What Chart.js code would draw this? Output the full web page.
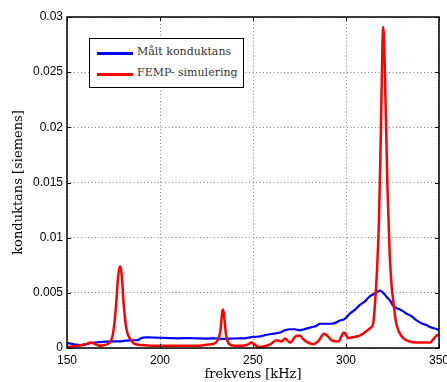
<!DOCTYPE html>
<html>
<head>
<meta charset="utf-8">
<script src="https://cdn.jsdelivr.net/npm/chart.js@4.4.0/dist/chart.umd.min.js"></script>
<style>
  html, body { margin: 0; padding: 0; background: #fff; }
  #wrap { position: relative; width: 447px; height: 382px; }
  #legend {
    position: absolute; left: 89px; top: 38px; width: 155px; height: 50px;
    box-sizing: border-box; border: 1.5px solid #000; background: #fff;
    font-family: "DejaVu Serif", serif; font-size: 11px; color: #333;
  }
  .row { position: absolute; left: 0; height: 14px; width: 100%; }
  .sw { position: absolute; left: 7px; top: 6px; width: 36px; height: 2.5px; }
  .lb { position: absolute; left: 47px; top: -1px; white-space: nowrap; }
</style>
</head>
<body>
<div id="wrap">
  <canvas id="c" width="447" height="382"></canvas>
  <div id="legend">
    <div class="row" style="top:7px"><div class="sw" style="background:#0000ff"></div><div class="lb" id="l0"></div></div>
    <div class="row" style="top:28px"><div class="sw" style="background:#ff0000"></div><div class="lb" id="l1"></div></div>
  </div>
</div>
<script>
const seriesNames = ["Målt konduktans", "FEMP- simulering"];
const xTicks = [150, 200, 250, 300, 350];
const yTicks = [0, 0.005, 0.01, 0.015, 0.02, 0.025, 0.03];

const blueFreq = [150,152,155,157,160,163,166,169,172,175,180,184,188,190,192,196,200,205,210,215,220,225,230,234,240,245,250,254,257.4,261,264.5,267,270,272.5,275,277.5,279.7,282,284,286,289,292,294.5,296.8,299,302,305,307.5,310,312.9,315,316.8,318.3,320,322,323.7,325.5,327.2,329,331,332.6,335,338,341,343,345.2,347,349,350];
const blueVal  = [0.00046,0.0004,0.0003,0.00027,0.00033,0.00045,0.0005,0.00056,0.00058,0.0006,0.00063,0.0007,0.00072,0.0009,0.00097,0.00095,0.00093,0.0009,0.00088,0.0009,0.00087,0.00085,0.00088,0.00082,0.00086,0.00088,0.001,0.00105,0.0012,0.0013,0.0014,0.0016,0.0017,0.0017,0.0016,0.0017,0.0018,0.0019,0.0020,0.0022,0.0022,0.0022,0.0023,0.0025,0.0026,0.0031,0.0035,0.0039,0.0042,0.0047,0.0049,0.0051,0.0052,0.0050,0.0046,0.0043,0.0038,0.0036,0.0035,0.0033,0.0031,0.0029,0.0025,0.0022,0.0021,0.0019,0.0018,0.0017,0.0016];

const redFreq = [150,153,156,159,161,162.7,164.5,167.7,171,173.5,175,176.3,177.5,178.5,179.3,180.6,182,184,186,188,192,196,200,205,210,215,220,225,229,231,232.5,233.5,234,234.7,235.5,237,240,244,247,249.3,251,253,256,259,262.7,265.4,267.2,270,273.5,275.3,277,278.5,282.4,285,288.2,290,292.3,295.9,298.9,301.3,304,307,309.3,311.5,313,314.6,315.6,316.8,317.8,318.8,319.6,320,320.5,321.3,322.3,323.5,324.6,325.4,326.3,327.2,329,330.8,334,338,342,345.2,347,348.5,350];
const redVal  = [0.0001,0.00015,0.0002,0.0003,0.0004,0.0005,0.0004,0.0002,0.0003,0.0006,0.0016,0.0037,0.0065,0.0074,0.0068,0.0037,0.0017,0.0008,0.0004,0.0003,0.00025,0.0002,0.0002,0.0002,0.0002,0.0002,0.0002,0.0003,0.0004,0.0007,0.0016,0.0033,0.0035,0.0025,0.0012,0.0004,0.0002,0.0002,0.0003,0.0005,0.0003,0.0001,0.00015,0.0003,0.0007,0.0006,0.00085,0.0005,0.0011,0.0011,0.0008,0.0006,0.00035,0.0006,0.0013,0.0011,0.0007,0.0006,0.0014,0.0009,0.001,0.0011,0.0013,0.0016,0.0018,0.0022,0.004,0.0075,0.012,0.02,0.0275,0.0291,0.028,0.022,0.0145,0.0085,0.0055,0.0043,0.003,0.0021,0.0013,0.0009,0.0006,0.0005,0.0005,0.0005,0.0008,0.0011,0.0012];

document.getElementById('l0').textContent = seriesNames[0];
document.getElementById('l1').textContent = seriesNames[1];

const toPts = (xs, ys) => xs.map((x, i) => ({x: x, y: ys[i]}));

const boxPlugin = {
  id: 'box',
  afterDatasetsDraw(chart) {
    const {ctx, chartArea: a, scales} = chart;
    ctx.save();
    ctx.strokeStyle = '#000';
    ctx.lineWidth = 1;
    ctx.beginPath();
    xTicks.forEach(v => {
      const px = Math.round(scales.x.getPixelForValue(v)) + 0.5;
      ctx.moveTo(px, a.bottom); ctx.lineTo(px, a.bottom - 4);
      ctx.moveTo(px, a.top); ctx.lineTo(px, a.top + 4);
    });
    yTicks.forEach(v => {
      const py = Math.round(scales.y.getPixelForValue(v)) + 0.5;
      ctx.moveTo(a.left, py); ctx.lineTo(a.left + 4, py);
      ctx.moveTo(a.right, py); ctx.lineTo(a.right - 4, py);
    });
    ctx.stroke();
    ctx.lineWidth = 1.5;
    ctx.strokeRect(a.left, a.top, a.right - a.left, a.bottom - a.top);
    ctx.restore();
  }
};

new Chart(document.getElementById('c'), {
  type: 'line',
  data: {
    datasets: [
      { label: seriesNames[0], data: toPts(blueFreq, blueVal), borderColor: '#0000ff', borderWidth: 2.2, pointRadius: 0, cubicInterpolationMode: 'monotone', order: 2 },
      { label: seriesNames[1], data: toPts(redFreq, redVal), borderColor: '#ff0000', borderWidth: 2.5, pointRadius: 0, cubicInterpolationMode: 'monotone', order: 1 }
    ]
  },
  options: {
    responsive: false,
    animation: false,
    devicePixelRatio: 1,
    layout: { padding: { left: 0, right: 8, top: 17, bottom: 0 } },
    plugins: { legend: { display: false }, tooltip: { enabled: false } },
    scales: {
      x: {
        type: 'linear', min: 150, max: 350,
        afterBuildTicks: s => { s.ticks = xTicks.map(v => ({value: v})); },
        afterFit: s => { s.height = 34; s.paddingLeft = 0; s.paddingRight = 0; },
        ticks: { padding: 5, color: '#000', font: { family: 'Liberation Sans', size: 12 }, maxRotation: 0, callback: v => String(v) },
        grid: { color: 'rgba(0,0,0,0.5)', lineWidth: 1, drawTicks: false },
        border: { display: false, dash: [1, 2.5] },
        title: { display: true, text: 'frekvens [kHz]', color: '#000', font: { family: 'DejaVu Serif', size: 13 }, padding: { top: 0, bottom: 0 } }
      },
      y: {
        type: 'linear', min: 0, max: 0.03,
        afterBuildTicks: s => { s.ticks = yTicks.map(v => ({value: v})); },
        afterFit: s => { s.width = 67; s.paddingTop = 0; s.paddingBottom = 0; },
        ticks: { padding: 4, color: '#000', font: { family: 'Liberation Sans', size: 12 }, callback: v => String(+v.toFixed(3)) },
        grid: { color: 'rgba(0,0,0,0.5)', lineWidth: 1, drawTicks: false },
        border: { display: false, dash: [1, 2.5] },
        title: { display: true, text: 'konduktans [siemens]', color: '#000', font: { family: 'DejaVu Serif', size: 13 }, padding: { top: 11, bottom: 0 } }
      }
    }
  },
  plugins: [boxPlugin]
});
</script>
</body>
</html>
